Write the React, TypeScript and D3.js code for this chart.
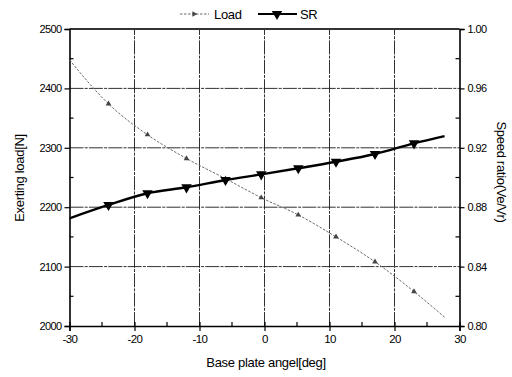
import React, { useEffect, useRef } from "react";
import * as d3 from "d3";

// Base plate angle [deg] at which each series was sampled
const angles = [-30, -24, -18, -12, -6, -0.5, 5.2, 11, 17, 23, 27.7];
// Exerting load [N]
const loadValues = [2448, 2374, 2322, 2282, 2248, 2216, 2187, 2150, 2108, 2058, 2015];
// Speed ratio (Ve/Vr)
const srValues = [0.8725, 0.8815, 0.8894, 0.8934, 0.8983, 0.9021, 0.9062, 0.9106, 0.9158, 0.923, 0.9279];

const xTicks = [-30, -20, -10, 0, 10, 20, 30];
const loadTicks = [2000, 2100, 2200, 2300, 2400, 2500];
const srTicks = [0.8, 0.84, 0.88, 0.92, 0.96, 1.0];
const seriesNames = ["Load", "SR"];

const W = 512;
const H = 377;
const FONT = "'Liberation Sans', Arial, sans-serif";

export default function App() {
  const ref = useRef<SVGSVGElement | null>(null);

  useEffect(() => {
    const svg = d3.select(ref.current);
    svg.selectAll("*").remove();

    const x = d3.scaleLinear().domain([-30, 30]).range([69.5, 459.5]);
    const yL = d3.scaleLinear().domain([2000, 2500]).range([326, 29]);
    const yR = d3.scaleLinear().domain([0.8, 1.0]).range([326, 29]);

    const g = svg.append("g");

    // grid
    const grid = g.append("g").attr("stroke", "#1a1a1a").attr("stroke-width", 0.9).attr("stroke-dasharray", "14,1.2,3,1.2");
    xTicks.slice(1, -1).forEach((t) => {
      grid.append("line").attr("x1", x(t)).attr("x2", x(t)).attr("y1", yL(2000)).attr("y2", yL(2500));
    });
    loadTicks.slice(1, -1).forEach((t) => {
      grid.append("line").attr("x1", x(-30)).attr("x2", x(30)).attr("y1", yL(t)).attr("y2", yL(t));
    });

    // frame
    g.append("line").attr("x1", x(-30)).attr("x2", x(30)).attr("y1", yL(2500)).attr("y2", yL(2500))
      .attr("stroke", "#333").attr("stroke-width", 1.8);

    // axes
    const styleAxis = (sel: d3.Selection<SVGGElement, unknown, null, undefined>, size = 11) => {
      sel.selectAll("path.domain").attr("stroke", "#000").attr("stroke-width", 1.6);
      sel.selectAll(".tick line").attr("stroke", "#000").attr("stroke-width", 1.2);
      sel.selectAll(".tick text").attr("font-family", FONT).attr("font-size", size).attr("fill", "#000")
        .attr("letter-spacing", -0.6);
    };

    const minorX = d3.range(-25, 30, 10);
    const minorL = d3.range(2050, 2500, 100);
    const plain = (d: d3.NumberValue) => String(d);

    const bottom = g.append("g").attr("transform", `translate(0,${yL(2000)})`)
      .call(d3.axisBottom(x).tickValues(xTicks).tickFormat(plain).tickSizeOuter(0).tickSize(5).tickPadding(4));
    styleAxis(bottom, 11.5);
    bottom.selectAll(".tick line").attr("y1", -4);
    bottom.append("g").selectAll("line").data(minorX).join("line")
      .attr("x1", (d) => x(d)).attr("x2", (d) => x(d)).attr("y1", 0).attr("y2", -4)
      .attr("stroke", "#000").attr("stroke-width", 1.2);

    const left = g.append("g").attr("transform", `translate(${x(-30)},0)`)
      .call(d3.axisLeft(yL).tickValues(loadTicks).tickFormat(plain).tickSizeOuter(0).tickSize(5).tickPadding(3));
    styleAxis(left);
    left.append("g").selectAll("line").data(minorL).join("line")
      .attr("x1", 0).attr("x2", 4).attr("y1", (d) => yL(d)).attr("y2", (d) => yL(d))
      .attr("stroke", "#000").attr("stroke-width", 1.2);

    const right = g.append("g").attr("transform", `translate(${x(30)},0)`)
      .call(d3.axisRight(yR).tickValues(srTicks).tickFormat(d3.format(".2f")).tickSizeOuter(0).tickSize(5).tickPadding(3));
    styleAxis(right);
    right.append("g").selectAll("line").data(minorL).join("line")
      .attr("x1", 0).attr("x2", -4).attr("y1", (d) => yL(d)).attr("y2", (d) => yL(d))
      .attr("stroke", "#000").attr("stroke-width", 1.2);

    // Load series
    const loadLine = d3.line<number>().x((_, i) => x(angles[i])).y((d) => yL(d)).curve(d3.curveMonotoneX);
    g.append("path").attr("d", loadLine(loadValues)).attr("fill", "none")
      .attr("stroke", "#6a6a6a").attr("stroke-width", 1).attr("stroke-dasharray", "2.5,1.5");
    const loadSym = d3.symbol().type(d3.symbolTriangle).size(14)();
    g.append("g").selectAll("path").data(loadValues.slice(1, -1)).join("path")
      .attr("d", loadSym)
      .attr("transform", (d, i) => `translate(${x(angles[i + 1])},${yL(d)}) rotate(120)`)
      .attr("fill", "#444");

    // SR series
    const srLine = d3.line<number>().x((_, i) => x(angles[i])).y((d) => yR(d)).curve(d3.curveMonotoneX);
    g.append("path").attr("d", srLine(srValues)).attr("fill", "none")
      .attr("stroke", "#000").attr("stroke-width", 2.4);
    const srSym = d3.symbol().type(d3.symbolTriangle).size(48)();
    g.append("g").selectAll("path").data(srValues.slice(1, -1)).join("path")
      .attr("d", srSym)
      .attr("transform", (d, i) => `translate(${x(angles[i + 1])},${yR(d)}) rotate(180)`)
      .attr("fill", "#000");

    // axis titles
    g.append("text").attr("x", 266).attr("y", 367).attr("text-anchor", "middle")
      .attr("font-family", FONT).attr("font-size", 13).attr("letter-spacing", -0.3).text("Base plate angel[deg]");
    g.append("text").attr("transform", `translate(24,178) rotate(-90)`).attr("text-anchor", "middle")
      .attr("font-family", FONT).attr("font-size", 13).attr("letter-spacing", -0.3).text("Exerting load[N]");
    g.append("text").attr("transform", `translate(497,172) rotate(90)`).attr("text-anchor", "middle")
      .attr("font-family", FONT).attr("font-size", 13).attr("letter-spacing", -0.3).text("Speed ratio(Ve/Vr)");

    // legend
    const lg = g.append("g");
    lg.append("line").attr("x1", 180).attr("x2", 209).attr("y1", 14).attr("y2", 14)
      .attr("stroke", "#6a6a6a").attr("stroke-width", 1).attr("stroke-dasharray", "2.5,1.5");
    lg.append("path").attr("d", loadSym).attr("transform", "translate(194,14) rotate(90)").attr("fill", "#444");
    lg.append("text").attr("x", 214).attr("y", 18.5).attr("font-family", FONT).attr("font-size", 13)
      .attr("letter-spacing", -0.3).text(seriesNames[0]);
    lg.append("line").attr("x1", 258).attr("x2", 297).attr("y1", 14).attr("y2", 14)
      .attr("stroke", "#000").attr("stroke-width", 2.2);
    lg.append("path").attr("d", srSym).attr("transform", "translate(277,14) rotate(180)").attr("fill", "#000");
    lg.append("text").attr("x", 300).attr("y", 18.5).attr("font-family", FONT).attr("font-size", 13)
      .attr("letter-spacing", -0.3).text(seriesNames[1]);
  }, []);

  return (
    <svg
      ref={ref}
      width={W}
      height={H}
      style={{ position: "absolute", left: 0, top: 0, background: "#fff" }}
    />
  );
}
